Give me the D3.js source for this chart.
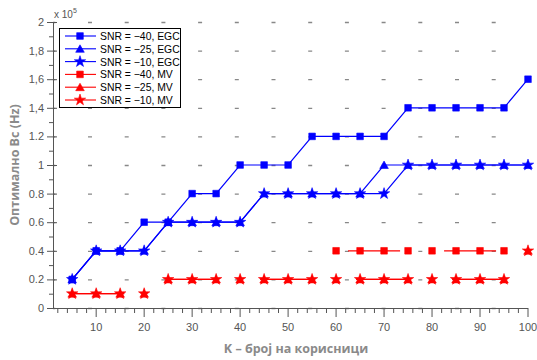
<!DOCTYPE html>
<html>
<head>
<meta charset="utf-8">
<script src="https://cdn.jsdelivr.net/npm/d3@7"></script>
<style>
  html, body { margin: 0; padding: 0; background: #fff; }
  svg { display: block; }
</style>
</head>
<body>
<svg id="chart" width="537" height="360"></svg>
<script>
// Number of users K
const users = [5, 10, 15, 20, 25, 30, 35, 40, 45, 50, 55, 60, 65, 70, 75, 80, 85, 90, 95, 100];

// Optimal Bc, in units of 1e5 Hz
const egcSnr40 = [0.2, 0.4, 0.4, 0.6, 0.6, 0.8, 0.8, 1.0, 1.0, 1.0, 1.2, 1.2, 1.2, 1.2, 1.4, 1.4, 1.4, 1.4, 1.4, 1.6];
const egcSnr25 = [0.2, 0.4, 0.4, 0.4, 0.6, 0.6, 0.6, 0.6, 0.8, 0.8, 0.8, 0.8, 0.8, 1.0, 1.0, 1.0, 1.0, 1.0, 1.0, 1.0];
const egcSnr10 = [0.2, 0.4, 0.4, 0.4, 0.6, 0.6, 0.6, 0.6, 0.8, 0.8, 0.8, 0.8, 0.8, 0.8, 1.0, 1.0, 1.0, 1.0, 1.0, 1.0];
const mvSnr40 = [null, null, null, null, null, null, null, null, null, null, null, 0.4, 0.4, 0.4, 0.4, 0.4, 0.4, 0.4, 0.4, null];
const mvSnr25 = [0.1, 0.1, 0.1, 0.1, 0.2, 0.2, 0.2, 0.2, 0.2, 0.2, 0.2, 0.2, 0.2, 0.2, 0.2, 0.2, 0.2, 0.2, 0.2, 0.4];
const mvSnr10 = [0.1, 0.1, 0.1, 0.1, 0.2, 0.2, 0.2, 0.2, 0.2, 0.2, 0.2, 0.2, 0.2, 0.2, 0.2, 0.2, 0.2, 0.2, 0.2, 0.4];

const legendLabels = ["SNR = \u221240, EGC", "SNR = \u221225, EGC", "SNR = \u221210, EGC",
                      "SNR = \u221240, MV", "SNR = \u221225, MV", "SNR = \u221210, MV"];

const yTicks = [0, 0.2, 0.4, 0.6, 0.8, 1, 1.2, 1.4, 1.6, 1.8, 2];
const yTickLabels = ["0", "0.2", "0.4", "0.6", "0.8", "1", "1.2", "1,4", "1,6", "1,8", "2"];
const xTicks = [10, 20, 30, 40, 50, 60, 70, 80, 90, 100];

const xTitle = "K \u2013 број на корисници";
const yTitle = "Оптимално Bc (Hz)";

const svg = d3.select("#chart");
const plotLeft = 53, plotRight = 528, plotTop = 22, plotBottom = 308;

const x = d3.scaleLinear().domain([1, 100]).range([plotLeft, plotRight]);
const y = d3.scaleLinear().domain([0, 2]).range([plotBottom, plotTop]);

const axisColor = "#555";
const labelFont = "'Liberation Sans', Arial, sans-serif";

// horizontal dotted grid
svg.append("g").selectAll("line").data(yTicks).join("line")
  .attr("x1", plotLeft).attr("x2", plotRight)
  .attr("y1", d => y(d) + 0.5).attr("y2", d => y(d) + 0.5)
  .attr("stroke", "#888").attr("stroke-width", 1.3)
  .attr("stroke-dasharray", "4,32.7").attr("stroke-dashoffset", 1.7);

// y axis
const yAxis = svg.append("g").attr("transform", `translate(${plotLeft},0)`);
yAxis.append("line").attr("x1", 0.5).attr("x2", 0.5).attr("y1", plotTop).attr("y2", plotBottom)
  .attr("stroke", axisColor);
yAxis.selectAll(".maj").data(yTicks).join("line").attr("class", "maj")
  .attr("x1", -6).attr("x2", 4).attr("y1", d => y(d) + 0.5).attr("y2", d => y(d) + 0.5)
  .attr("stroke", axisColor);
yAxis.selectAll(".min").data(d3.range(0.1, 2, 0.2)).join("line").attr("class", "min")
  .attr("x1", -4).attr("x2", 0).attr("y1", d => y(d) + 0.5).attr("y2", d => y(d) + 0.5)
  .attr("stroke", axisColor);
yAxis.selectAll("text").data(yTicks).join("text")
  .attr("x", -9).attr("y", d => y(d) + 4)
  .attr("text-anchor", "end").attr("font-family", labelFont).attr("font-size", 11)
  .attr("fill", "#555").text((d, i) => yTickLabels[i]);

// exponent label
const expo = svg.append("text").attr("x", 54).attr("y", 18)
  .attr("font-family", labelFont).attr("font-size", 10).attr("fill", "#555");
expo.append("tspan").text("x 10");
expo.append("tspan").attr("font-size", 7).attr("dy", -5).text("5");

// x axis
const xAxis = svg.append("g").attr("transform", `translate(0,${plotBottom})`);
xAxis.append("line").attr("x1", plotLeft).attr("x2", plotRight).attr("y1", 0.5).attr("y2", 0.5)
  .attr("stroke", axisColor);
xAxis.selectAll(".maj").data(xTicks).join("line").attr("class", "maj")
  .attr("x1", d => x(d)).attr("x2", d => x(d)).attr("y1", 0).attr("y2", 9)
  .attr("stroke", axisColor);
xAxis.selectAll(".min").data(d3.range(2, 100, 2).filter(v => v % 10 !== 0)).join("line").attr("class", "min")
  .attr("x1", d => x(d)).attr("x2", d => x(d)).attr("y1", 0).attr("y2", 5)
  .attr("stroke", axisColor);
xAxis.selectAll("text").data(xTicks).join("text")
  .attr("x", d => x(d)).attr("y", 23)
  .attr("text-anchor", "middle").attr("font-family", labelFont).attr("font-size", 11)
  .attr("fill", "#555").text(d => d);

// axis titles
svg.append("text").attr("x", 296).attr("y", 353).attr("text-anchor", "middle")
  .attr("font-family", "'Open Sans', sans-serif").attr("font-weight", "bold")
  .attr("font-size", 12.5).attr("fill", "#8a8a8a").text(xTitle);
svg.append("text").attr("transform", `translate(19,${(plotTop + plotBottom) / 2}) rotate(-90)`)
  .attr("text-anchor", "middle")
  .attr("font-family", "'Open Sans', sans-serif").attr("font-weight", "bold")
  .attr("font-size", 12.5).attr("fill", "#8a8a8a").text(yTitle);

// series
const blue = "#0000ff", red = "#ff0000";
const markers = {
  square: d3.symbol().type(d3.symbolSquare).size(44),
  triangle: d3.symbol().type(d3.symbolTriangle).size(32),
  star: d3.symbol().type(d3.symbolStar).size(40)
};
const series = [
  { values: egcSnr40, color: blue, marker: "square" },
  { values: egcSnr25, color: blue, marker: "triangle" },
  { values: egcSnr10, color: blue, marker: "star" },
  { values: mvSnr40, color: red, marker: "square", dash: "52,44", offset: 84 },
  { values: mvSnr25, color: red, marker: "triangle", dash: "52,44", offset: 0 },
  { values: mvSnr10, color: red, marker: "star", dash: "52,44", offset: 0 }
];

const line = d3.line()
  .defined(d => d.v !== null)
  .x(d => x(d.k)).y(d => y(d.v));

const plot = svg.append("g");
series.forEach(s => {
  const pts = users.map((k, i) => ({ k, v: s.values[i] }));
  const g = plot.append("g");
  g.append("path").attr("d", line(pts)).attr("fill", "none")
    .attr("stroke", s.color).attr("stroke-width", 1.2)
    .attr("stroke-dasharray", s.dash || null)
    .attr("stroke-dashoffset", s.offset || 0);
  g.selectAll("path.mk").data(pts.filter(d => d.v !== null)).join("path").attr("class", "mk")
    .attr("transform", d => `translate(${x(d.k)},${y(d.v) + (s.marker === "triangle" ? 1 : 0)})`)
    .attr("d", markers[s.marker]())
    .attr("fill", s.color).attr("stroke", s.color).attr("stroke-width", 0.6);
});

// legend
const lg = svg.append("g");
lg.append("rect").attr("x", 59.5).attr("y", 28.5).attr("width", 121).attr("height", 79)
  .attr("fill", "#fff").attr("stroke", "#000").attr("stroke-width", 1);
series.forEach((s, i) => {
  const ly = 36 + i * 12.8;
  lg.append("line").attr("x1", 65).attr("x2", 96).attr("y1", ly).attr("y2", ly)
    .attr("stroke", s.color).attr("stroke-width", 1.1);
  lg.append("path").attr("transform", `translate(80,${ly + (s.marker === "triangle" ? 1 : 0)})`)
    .attr("d", markers[s.marker]()).attr("fill", s.color).attr("stroke", s.color).attr("stroke-width", 0.6);
  lg.append("text").attr("x", 100).attr("y", ly + 4)
    .attr("font-family", labelFont).attr("font-size", 10.4).attr("fill", "#000")
    .text(legendLabels[i]);
});
</script>
</body>
</html>
